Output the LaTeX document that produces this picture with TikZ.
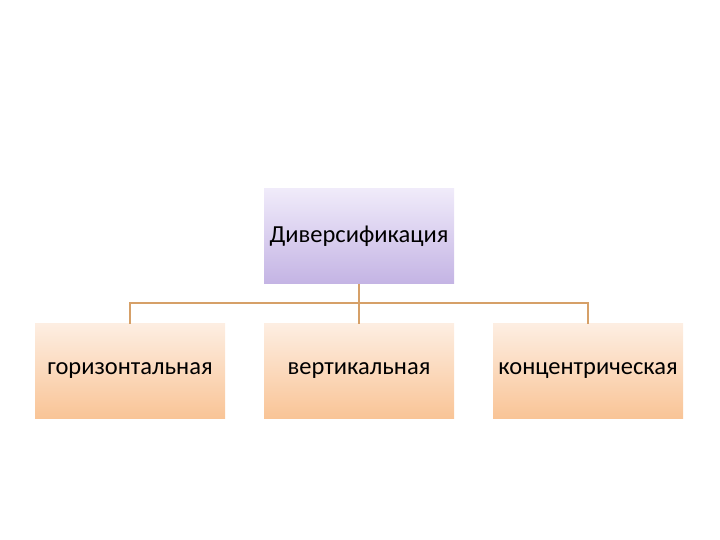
\documentclass[tikz,border=0pt]{standalone}
\usepackage{fontspec}
\setmainfont{Carlito}
\usepackage{tikz}
\usetikzlibrary{positioning,calc}

\definecolor{lavtop}{RGB}{240,235,250}
\definecolor{lavbot}{RGB}{196,180,228}
\definecolor{peachtop}{RGB}{253,238,226}
\definecolor{peachbot}{RGB}{249,196,150}
\definecolor{linkcol}{RGB}{214,160,104}

\tikzset{
  box/.style={minimum width=190pt, minimum height=95pt, inner sep=0pt, outer sep=0pt, font=\fontsize{24.5}{28}\selectfont},
  headbox/.style={box, top color=lavtop, bottom color=lavbot},
  kindbox/.style={box, top color=peachtop, bottom color=peachbot},
  link/.style={linkcol, line width=1.8pt}
}

\begin{document}
\begin{tikzpicture}[x=1pt,y=-1pt,node distance=40pt and 39pt]
\useasboundingbox (0,0) rectangle (720,540);
\node[headbox] (div) at (359,236) {Диверсификация};
\node[kindbox, below=of div] (vert) {вертикальная};
\node[kindbox, left=of vert] (horiz) {горизонтальная};
\node[kindbox, right=of vert] (conc) {концентрическая};
\coordinate (bus) at ($(div.south)!0.5!(vert.north)+(0,-0.5)$);
\draw[link] (div.south) -- (vert.north);
\draw[link] (bus) -| (horiz.north);
\draw[link] (bus) -| (conc.north);
\end{tikzpicture}
\end{document}
